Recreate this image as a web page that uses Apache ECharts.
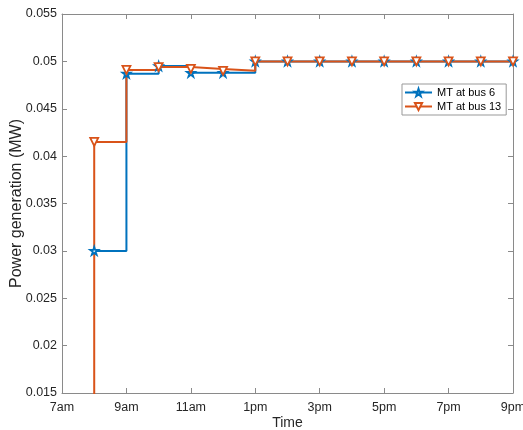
<!DOCTYPE html>
<html>
<head>
<meta charset="utf-8">
<script src="https://cdn.jsdelivr.net/npm/echarts@6/dist/echarts.min.js"></script>
<style>html,body{margin:0;padding:0;background:#fff;}#c{width:523px;height:430px;}</style>
</head>
<body>
<div id="c"></div>
<script>
// Data
var hours = [7, 8, 9, 10, 11, 12, 13, 14, 15, 16, 17, 18, 19, 20, 21];
var mtBus6 = [null, 0.0300, 0.0487, 0.0495, 0.0488, 0.0488, 0.0500, 0.0500, 0.0500, 0.0500, 0.0500, 0.0500, 0.0500, 0.0500, 0.0500];
var mtBus13 = [0, 0.0415, 0.0491, 0.0494, 0.0492, 0.0490, 0.0500, 0.0500, 0.0500, 0.0500, 0.0500, 0.0500, 0.0500, 0.0500, 0.0500];
var xTickValues = [7, 9, 11, 13, 15, 17, 19, 21];
var xTickLabels = ['7am', '9am', '11am', '1pm', '3pm', '5pm', '7pm', '9pm'];
var seriesNames = ['MT at bus 6', 'MT at bus 13'];

var starPath = 'path://M50,0 L61.2,34.5 L97.6,34.5 L68.2,55.9 L79.4,90.5 L50,69.1 L20.6,90.5 L31.8,55.9 L2.4,34.5 L38.8,34.5 Z';
var blue = '#0072BD', orange = '#D95319';
var axisCol = '#8a8a8a', textCol = '#262626';
var font = 'Liberation Sans, Arial, Helvetica, sans-serif';

function pairs(xs, ys) { return xs.map(function (x, i) { return [x, ys[i]]; }); }

var chart = echarts.init(document.getElementById('c'), null, { renderer: 'canvas' });
chart.setOption({
  animation: false,
  backgroundColor: '#fff',
  textStyle: { fontFamily: font },
  grid: { left: 62, right: 10, top: 14, bottom: 37, containLabel: false, outerBoundsMode: 'none' },
  legend: {
    orient: 'vertical',
    left: 402, top: 84,
    data: seriesNames,
    itemWidth: 27, itemHeight: 9, itemGap: 1,
    padding: [2, 5, 2, 2],
    borderColor: '#999', borderWidth: 1, backgroundColor: '#fff',
    textStyle: { fontSize: 11, color: '#000', fontFamily: font, lineHeight: 13 }
  },
  xAxis: [{
    type: 'value', min: 7, max: 21, interval: 2,
    name: 'Time', nameLocation: 'middle', nameGap: 23, nameMoveOverlap: false,
    nameTextStyle: { fontSize: 14, color: textCol, fontFamily: font },
    axisLine: { lineStyle: { color: axisCol, width: 1 } },
    axisTick: { inside: true, length: 5, lineStyle: { color: axisCol } },
    axisLabel: { margin: 8, fontSize: 12.5, color: textCol, fontFamily: font,
      formatter: function (v) { var i = xTickValues.indexOf(v); return i >= 0 ? xTickLabels[i] : ''; } },
    splitLine: { show: false }
  }, {
    type: 'value', min: 7, max: 21, interval: 2, position: 'top',
    axisLine: { show: true, onZero: false, lineStyle: { color: axisCol, width: 1 } },
    axisTick: { show: true, inside: true, length: 5, lineStyle: { color: axisCol } },
    axisLabel: { show: false }, splitLine: { show: false }
  }],
  yAxis: [{
    type: 'value', min: 0.015, max: 0.055, interval: 0.005,
    name: 'Power generation (MW)', nameLocation: 'middle', nameGap: 37, nameMoveOverlap: false,
    nameTextStyle: { fontSize: 16, color: textCol, fontFamily: font },
    axisLine: { show: true, lineStyle: { color: axisCol, width: 1 } },
    axisTick: { show: true, inside: true, length: 5, lineStyle: { color: axisCol } },
    axisLabel: { margin: 5, fontSize: 12.5, color: textCol, fontFamily: font,
      formatter: function (v) { return String(parseFloat(v.toFixed(4))); } },
    splitLine: { show: false }
  }, {
    type: 'value', min: 0.015, max: 0.055, interval: 0.005, position: 'right',
    axisLine: { show: true, onZero: false, lineStyle: { color: axisCol, width: 1 } },
    axisTick: { show: true, inside: true, length: 5, lineStyle: { color: axisCol } },
    axisLabel: { show: false }, splitLine: { show: false }
  }],
  series: [{
    name: seriesNames[0], type: 'line', step: 'end',
    xAxisIndex: 0, yAxisIndex: 0,
    data: pairs(hours, mtBus6),
    symbol: starPath, symbolSize: 8, showAllSymbol: true,
    lineStyle: { color: blue, width: 2 },
    itemStyle: { color: '#fff', borderColor: blue, borderWidth: 1.8 },
    clip: true, connectNulls: false
  }, {
    name: seriesNames[1], type: 'line', step: 'end',
    xAxisIndex: 0, yAxisIndex: 0,
    data: pairs(hours, mtBus13),
    symbol: 'triangle', symbolRotate: 180, symbolSize: 8, showAllSymbol: true,
    lineStyle: { color: orange, width: 2 },
    itemStyle: { color: '#fff', borderColor: orange, borderWidth: 1.8 },
    clip: true
  }]
});
</script>
</body>
</html>
